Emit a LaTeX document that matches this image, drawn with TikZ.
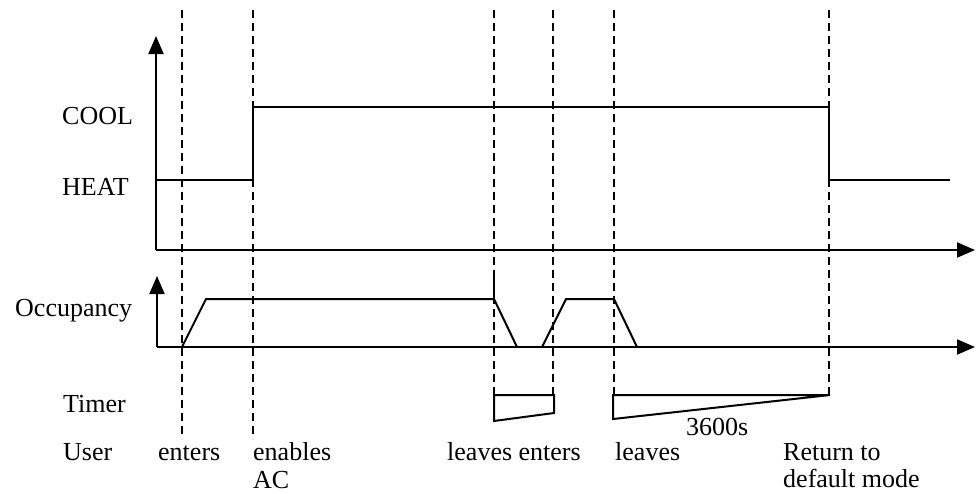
\documentclass[tikz,border=0pt]{standalone}
\usepackage{fontspec}
\setmainfont{Liberation Serif}
\usetikzlibrary{arrows.meta}
\begin{document}
\begin{tikzpicture}[x=1pt,y=-1pt,
  sig/.style={line width=2pt,line join=miter},
  axis/.style={line width=2pt,-{Triangle[width=15pt,length=18pt]}},
  guide/.style={line width=2pt,dash pattern=on 8pt off 5pt},
  lbl/.style={inner sep=0pt,anchor=base west,font=\fontsize{26}{30}\selectfont}]
\useasboundingbox (0,0) rectangle (978,493);
% guides
\coordinate (g1t) at (182,10); \coordinate (g1b) at (182,439);
\coordinate (g2t) at (253,10); \coordinate (g2b) at (253,439);
\coordinate (g3t) at (494,10); \coordinate (g3b) at (494,395);
\coordinate (g4t) at (553,10); \coordinate (g4b) at (553,395);
\coordinate (g5t) at (614,10); \coordinate (g5b) at (614,395);
\coordinate (g6t) at (829,10); \coordinate (g6b) at (829,395);
\foreach \i in {1,...,6} \draw[guide] (g\i t) -- (g\i b);
% upper axes
\coordinate (uo) at (156,250);
\coordinate (uy) at (156,36);
\coordinate (ux) at (975,250);
\draw[axis] (uo) -- (uy);
\draw[axis] (uo) -- (ux);
% mode signal
\coordinate (m0) at (156,180);
\coordinate (m1) at (253,180);
\coordinate (m2) at (253,107);
\coordinate (m3) at (829,107);
\coordinate (m4) at (829,180);
\coordinate (m5) at (950,180);
\draw[sig] (m0) -- (m1) -- (m2) -- (m3) -- (m4) -- (m5);
% lower axes
\coordinate (lo) at (157,347);
\coordinate (ly) at (157,276);
\coordinate (lx) at (975,347);
\draw[axis] (lo) -- (ly);
\draw[axis] (lo) -- (lx);
% occupancy signal
\coordinate (o1) at (182,347);
\coordinate (o2) at (206,299);
\coordinate (o3) at (494,299);
\coordinate (o4) at (517,347);
\coordinate (o5) at (542,347);
\coordinate (o6) at (566,299);
\coordinate (o7) at (614,299);
\coordinate (o8) at (637,347);
\coordinate (o3t) at (494,275);
\draw[sig] (o1) -- (o2) -- (o3) -- (o4);
\draw[sig] (o5) -- (o6) -- (o7) -- (o8);
\draw[sig] (o3t) -- (o3);
% timer
\coordinate (t1) at (494,395);
\coordinate (t2) at (554,395);
\coordinate (t3) at (554,413);
\coordinate (t4) at (494,421);
\draw[sig] (t1) -- (t2) -- (t3) -- (t4) -- cycle;
\coordinate (t5) at (613,395);
\coordinate (t6) at (830,395);
\coordinate (t7) at (613,419);
\draw[sig] (t5) -- (t6) -- (t7) -- cycle;
% labels
\node[lbl] (cool) at (62,124) {COOL};
\node[lbl] (heat) at (62,195) {HEAT};
\node[lbl] (occ) at (15,316) {Occupancy};
\node[lbl] (timer) at (63,412) {Timer};
\node[lbl] (user) at (63,460) {User};
\node[lbl] (ent1) at (158,460) {enters};
\node[lbl] (enab) at (253,460) {enables};
\node[lbl] (ac) at (253,488) {AC};
\node[lbl] (leav1) at (447,460) {leaves enters};
\node[lbl] (leav2) at (615,460) {leaves};
\node[lbl] (ret) at (783,460) {Return to};
\node[lbl] (def) at (783,487) {default mode};
\node[lbl] (secs) at (686,435) {3600s};
\end{tikzpicture}
\end{document}
